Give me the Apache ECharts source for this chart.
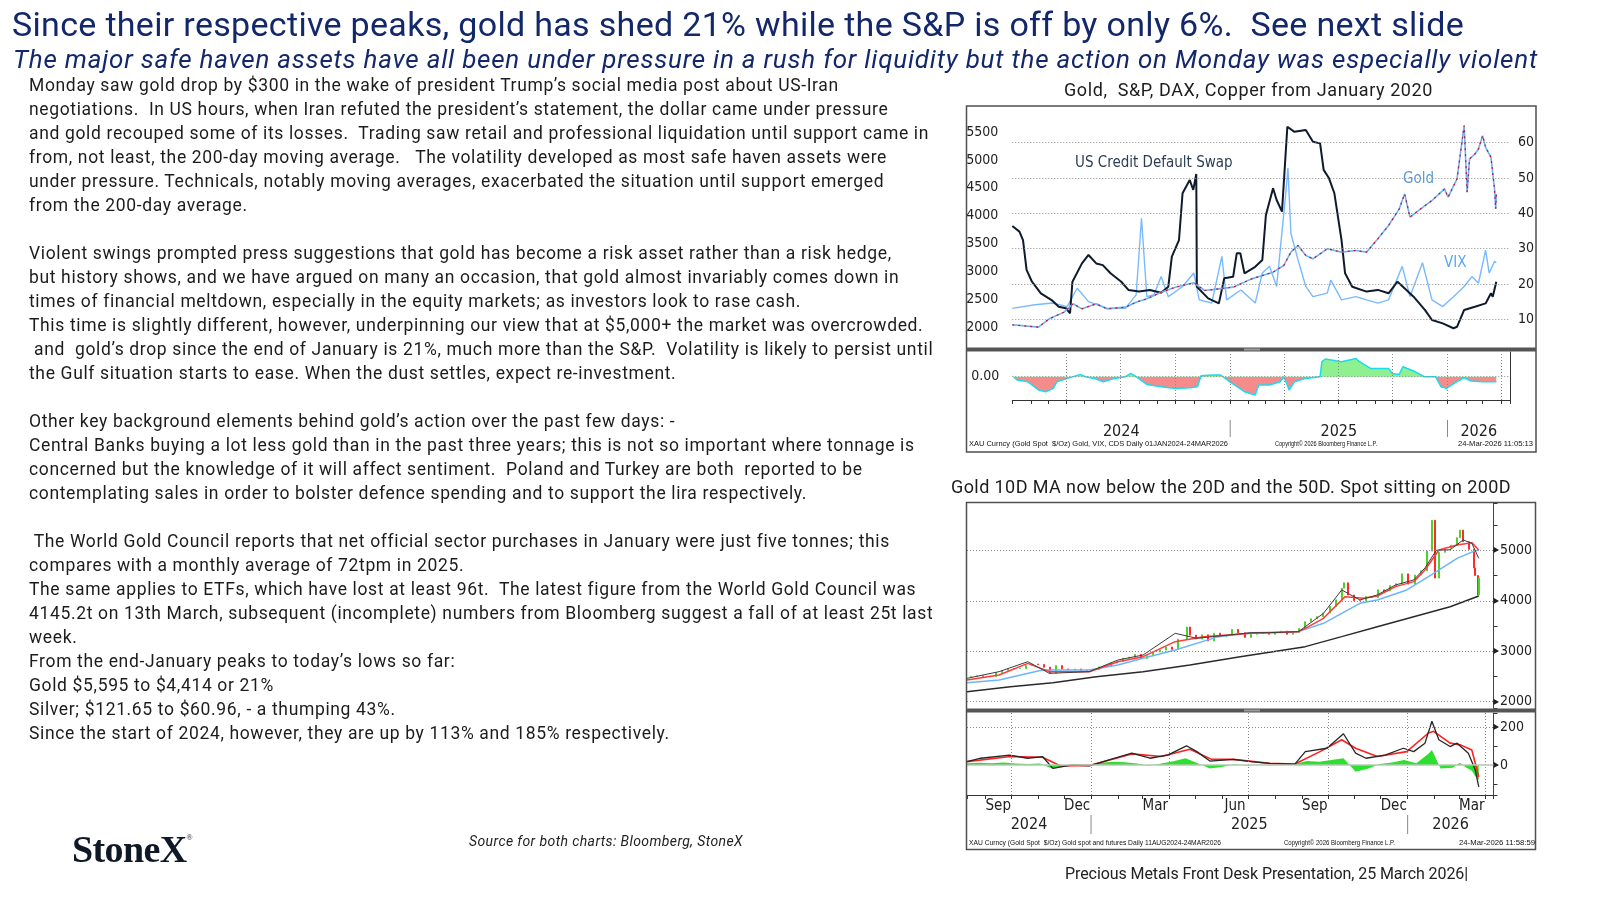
<!DOCTYPE html>
<html>
<head>
<meta charset="utf-8">
<title>Gold vs S&amp;P slide</title>
<script src="https://cdn.jsdelivr.net/npm/echarts@6.0.0/dist/echarts.min.js"></script>
<style>
  html, body { margin: 0; padding: 0; background: #fff; }
  #slide { position: relative; width: 1600px; height: 900px; overflow: hidden; font-family: Roboto, 'Noto Sans', sans-serif; color: #1c1c1c; }
  #chart { position: absolute; left: 0; top: 0; width: 1600px; height: 900px; z-index: 0; }
  .txt { position: absolute; white-space: pre; z-index: 1; }
  .title { left: 12px; top: 4px; font-size: 34px; line-height: 40px; color: #13286b; }
  .subtitle { left: 13px; top: 43px; font-size: 26px; line-height: 32px; font-style: italic; color: #13286b; }
  .body-line { left: 29px; font-size: 17.5px; line-height: 24px; height: 24px; }
  .ctitle { font-size: 18px; line-height: 24px; color: #1c1c1c; }
  .bbg { font-family: 'Liberation Sans Narrow', 'Liberation Sans', sans-serif; font-size: 8px; line-height: 10px; color: #111; transform-origin: 0 50%; }
  .logo { left: 72px; top: 816px; font-family: 'Liberation Serif', serif; font-weight: bold; font-size: 38px; line-height: 44px; color: #101828; }
  .logo sup { font-size: 8px; font-weight: normal; vertical-align: 22px; }
  .source { left: 469px; top: 831px; font-size: 14px; line-height: 20px; font-style: italic; color: #222; }
  .footer { left: 1065px; top: 864px; font-size: 16px; line-height: 20px; color: #222; }
</style>
</head>
<body>
<div id="slide">
  <div id="chart"></div>
  <div class="txt title" id="title">Since their respective peaks, gold has shed 21% while the S&amp;P is off by only 6%.  See next slide</div>
  <div class="txt subtitle" id="subtitle">The major safe haven assets have all been under pressure in a rush for liquidity but the action on Monday was especially violent</div>
  <div id="bodyText"></div>
  <div class="txt ctitle" id="ctitle1" style="left:1064px;top:78px;">Gold,  S&amp;P, DAX, Copper from January 2020</div>
  <div class="txt ctitle" id="ctitle2" style="left:951px;top:475px;">Gold 10D MA now below the 20D and the 50D. Spot sitting on 200D</div>
  <div class="txt bbg" id="bbg1a" style="left:969px;top:438.5px;">XAU Curncy (Gold Spot  $/Oz) Gold, VIX, CDS Daily 01JAN2024-24MAR2026</div>
  <div class="txt bbg" id="bbg1b" style="left:1275px;top:438.5px;">Copyright© 2026 Bloomberg Finance L.P.</div>
  <div class="txt bbg" id="bbg1c" style="left:1458px;top:438.5px;">24-Mar-2026 11:05:13</div>
  <div class="txt bbg" id="bbg2a" style="left:969px;top:838px;">XAU Curncy (Gold Spot  $/Oz) Gold spot and futures Daily 11AUG2024-24MAR2026</div>
  <div class="txt bbg" id="bbg2b" style="left:1284px;top:838px;">Copyright© 2026 Bloomberg Finance L.P.</div>
  <div class="txt bbg" id="bbg2c" style="left:1459px;top:838px;">24-Mar-2026 11:58:59</div>
  <div class="txt logo" id="logo">StoneX<sup>®</sup></div>
  <div class="txt source" id="source">Source for both charts: Bloomberg, StoneX</div>
  <div class="txt footer" id="footer">Precious Metals Front Desk Presentation, 25 March 2026|</div>
</div>
<script>
// ---------- slide text ----------
const bodyLines = [
  'Monday saw gold drop by $300 in the wake of president Trump’s social media post about US-Iran',
  'negotiations.  In US hours, when Iran refuted the president’s statement, the dollar came under pressure',
  'and gold recouped some of its losses.  Trading saw retail and professional liquidation until support came in',
  'from, not least, the 200-day moving average.   The volatility developed as most safe haven assets were',
  'under pressure. Technicals, notably moving averages, exacerbated the situation until support emerged',
  'from the 200-day average.',
  '',
  'Violent swings prompted press suggestions that gold has become a risk asset rather than a risk hedge,',
  'but history shows, and we have argued on many an occasion, that gold almost invariably comes down in',
  'times of financial meltdown, especially in the equity markets; as investors look to rase cash.',
  'This time is slightly different, however, underpinning our view that at $5,000+ the market was overcrowded.',
  ' and  gold’s drop since the end of January is 21%, much more than the S&P.  Volatility is likely to persist until',
  'the Gulf situation starts to ease. When the dust settles, expect re-investment.',
  '',
  'Other key background elements behind gold’s action over the past few days: -',
  'Central Banks buying a lot less gold than in the past three years; this is not so important where tonnage is',
  'concerned but the knowledge of it will affect sentiment.  Poland and Turkey are both  reported to be',
  'contemplating sales in order to bolster defence spending and to support the lira respectively.',
  '',
  ' The World Gold Council reports that net official sector purchases in January were just five tonnes; this',
  'compares with a monthly average of 72tpm in 2025.',
  'The same applies to ETFs, which have lost at least 96t.  The latest figure from the World Gold Council was',
  '4145.2t on 13th March, subsequent (incomplete) numbers from Bloomberg suggest a fall of at least 25t last',
  'week.',
  'From the end-January peaks to today’s lows so far:',
  'Gold $5,595 to $4,414 or 21%',
  'Silver; $121.65 to $60.96, - a thumping 43%.',
  'Since the start of 2024, however, they are up by 113% and 185% respectively.'
];

// ---------- chart 1: Gold, VIX, US CDS (daily, Jan 2024 - Mar 2026) ----------
const topGold = [
  ['2024-01-01', 2041], ['2024-02-14', 2000], ['2024-03-03', 2149], ['2024-03-28', 2269],
  ['2024-04-12', 2418], ['2024-04-27', 2328], ['2024-05-21', 2418], ['2024-06-08', 2328],
  ['2024-07-09', 2358], ['2024-07-27', 2448], ['2024-08-14', 2508], ['2024-09-07', 2627],
  ['2024-10-01', 2717], ['2024-11-01', 2795], ['2024-11-19', 2657], ['2024-12-13', 2687],
  ['2025-01-06', 2717], ['2025-02-06', 2866], ['2025-02-24', 2926], ['2025-03-14', 2986],
  ['2025-04-01', 3106], ['2025-04-13', 3346], ['2025-04-25', 3465], ['2025-05-08', 3286],
  ['2025-05-20', 3226], ['2025-06-13', 3405], ['2025-07-07', 3346], ['2025-07-31', 3376],
  ['2025-08-18', 3346], ['2025-09-06', 3585], ['2025-09-24', 3824], ['2025-10-12', 4123],
  ['2025-10-21', 4392], ['2025-10-30', 3973], ['2025-11-17', 4123], ['2025-12-06', 4273],
  ['2025-12-27', 4482], ['2026-01-02', 4332], ['2026-01-17', 4661], ['2026-01-29', 5619],
  ['2026-02-03', 4422], ['2026-02-07', 5019], ['2026-02-16', 5108], ['2026-02-22', 5198],
  ['2026-03-01', 5437], ['2026-03-06', 5228], ['2026-03-15', 5049], ['2026-03-21', 4482],
  ['2026-03-23', 4123], ['2026-03-24', 4392]
];
const topVix = [
  ['2024-01-01', 13.1], ['2024-02-08', 14.1], ['2024-03-09', 14.6], ['2024-04-02', 13.6],
  ['2024-04-19', 18.8], ['2024-05-08', 15.0], ['2024-06-08', 13.1], ['2024-07-09', 13.1],
  ['2024-07-27', 16.9], ['2024-08-05', 38.6], ['2024-08-14', 16.4], ['2024-08-26', 17.0],
  ['2024-09-07', 22.1], ['2024-09-19', 16.4], ['2024-10-13', 19.3], ['2024-11-01', 23.1],
  ['2024-11-10', 15.5], ['2024-12-01', 14.6], ['2024-12-18', 27.8], ['2024-12-26', 15.5],
  ['2025-01-19', 18.3], ['2025-02-12', 14.6], ['2025-02-24', 23.1], ['2025-03-08', 25.0],
  ['2025-03-20', 19.3], ['2025-04-04', 45.0], ['2025-04-08', 52.8], ['2025-04-13', 34.3],
  ['2025-04-25', 26.8], ['2025-05-08', 19.3], ['2025-05-20', 16.4], ['2025-06-13', 17.4],
  ['2025-06-19', 21.1], ['2025-07-07', 15.5], ['2025-07-31', 16.4], ['2025-08-18', 15.5],
  ['2025-09-06', 14.6], ['2025-09-24', 15.5], ['2025-10-17', 25.0], ['2025-10-30', 16.4],
  ['2025-11-20', 26.0], ['2025-12-06', 15.5], ['2025-12-24', 13.6], ['2026-01-11', 16.4],
  ['2026-01-29', 19.3], ['2026-02-11', 22.1], ['2026-02-22', 20.2], ['2026-03-06', 29.6],
  ['2026-03-12', 23.1], ['2026-03-21', 26.4], ['2026-03-24', 26.0]
];
// CDS has no printed scale: values are % of the panel height
const topCds = [
  ['2024-01-01', 50.6], ['2024-01-13', 48.3], ['2024-01-19', 44.8], ['2024-01-25', 32.4],
  ['2024-02-03', 27.5], ['2024-02-18', 22.7], ['2024-03-07', 19.9], ['2024-03-19', 17.1],
  ['2024-03-31', 16.5], ['2024-04-07', 14.4], ['2024-04-11', 27.5], ['2024-04-27', 35.1],
  ['2024-05-08', 38.6], ['2024-05-21', 35.1], ['2024-06-01', 34.4], ['2024-06-14', 31.0],
  ['2024-07-02', 27.5], ['2024-07-14', 24.1], ['2024-08-01', 23.4], ['2024-08-19', 24.1],
  ['2024-09-07', 22.9], ['2024-09-19', 25.4], ['2024-09-25', 37.9], ['2024-10-07', 44.8],
  ['2024-10-13', 64.2], ['2024-10-25', 69.7], ['2024-10-31', 65.6], ['2024-11-05', 72.2],
  ['2024-11-06', 25.4], ['2024-11-25', 20.6], ['2024-12-13', 18.5], ['2024-12-22', 28.9],
  ['2025-01-06', 29.6], ['2025-01-12', 39.3], ['2025-01-18', 39.3], ['2025-01-25', 31.0],
  ['2025-02-12', 33.7], ['2025-02-24', 36.5], ['2025-03-02', 55.2], ['2025-03-14', 66.3],
  ['2025-03-20', 61.4], ['2025-03-29', 56.6], ['2025-04-07', 91.8], ['2025-04-19', 89.7],
  ['2025-05-08', 90.5], ['2025-05-20', 85.6], ['2025-06-01', 84.9], ['2025-06-07', 73.9],
  ['2025-06-16', 70.4], ['2025-06-25', 64.2], ['2025-07-07', 44.8], ['2025-07-13', 31.0],
  ['2025-07-25', 25.4], ['2025-08-18', 23.4], ['2025-09-06', 24.1], ['2025-09-24', 22.7],
  ['2025-10-09', 27.5], ['2025-10-24', 24.1], ['2025-11-05', 21.3], ['2025-11-24', 15.8],
  ['2025-12-06', 11.6], ['2025-12-24', 10.2], ['2026-01-11', 8.2], ['2026-01-17', 8.8],
  ['2026-01-29', 15.8], ['2026-02-16', 17.1], ['2026-03-06', 18.5], ['2026-03-15', 22.7],
  ['2026-03-18', 21.3], ['2026-03-24', 27.5]
];
// lower panel spread (unscaled, only 0.00 printed)
const topSpread = [
  ['2024-01-03', 0], ['2024-01-09', -3.3], ['2024-01-27', -5], ['2024-02-14', -13.3],
  ['2024-02-26', -15], ['2024-03-10', -11.7], ['2024-03-16', -5], ['2024-04-03', -1.7],
  ['2024-04-24', 2.3], ['2024-05-03', 0], ['2024-05-21', -2.3], ['2024-06-02', -5],
  ['2024-06-21', -1.7], ['2024-07-09', 0], ['2024-07-18', 3.3], ['2024-07-27', 0],
  ['2024-08-14', -7.7], ['2024-09-07', -10], ['2024-10-01', -11.7], ['2024-10-26', -11],
  ['2024-11-07', -10], ['2024-11-13', 1], ['2024-12-01', 1.7], ['2024-12-16', 1.7],
  ['2024-12-19', 0], ['2024-12-31', -5], ['2025-01-25', -15], ['2025-02-12', -18.3],
  ['2025-02-18', -8.3], ['2025-03-08', -8.3], ['2025-03-26', -5], ['2025-04-01', 0],
  ['2025-04-07', -8.3], ['2025-04-10', -13.3], ['2025-04-19', -5], ['2025-05-08', -1.7],
  ['2025-06-01', 0], ['2025-06-04', 15], ['2025-06-10', 17.7], ['2025-07-07', 15],
  ['2025-07-31', 18.3], ['2025-08-06', 15], ['2025-08-25', 8.3], ['2025-09-24', 8.3],
  ['2025-09-30', 3.3], ['2025-10-12', 2.3], ['2025-10-18', 10], ['2025-11-05', 5.7],
  ['2025-11-23', 0], ['2025-12-12', 0], ['2025-12-21', -10], ['2025-12-30', -11.7],
  ['2026-01-17', -5], ['2026-01-29', -1], ['2026-02-10', -4.3], ['2026-02-28', -5],
  ['2026-03-24', -5]
];
const goldTicks = [2000, 2500, 3000, 3500, 4000, 4500, 5000, 5500];
const vixTicks = [10, 20, 30, 40, 50, 60];
const topQuarters = ['2024-04-01', '2024-07-01', '2024-10-01', '2025-01-01', '2025-04-01',
  '2025-07-01', '2025-10-01', '2026-01-01', '2026-04-01'];
const topYears = ['2024', '2025', '2026'];
const topYearBounds = ['2024-01-01', '2025-01-01', '2026-01-01', '2026-04-16'];

// ---------- chart 2: Gold spot with 10/20/50/200D MAs (Aug 2024 - Mar 2026) ----------
const spotClose = [
  ['2024-08-16', 2500], ['2024-08-23', 2512], ['2024-08-30', 2503], ['2024-09-06', 2497],
  ['2024-09-13', 2578], ['2024-09-20', 2622], ['2024-09-27', 2658], ['2024-10-04', 2653],
  ['2024-10-11', 2657], ['2024-10-18', 2721], ['2024-10-25', 2747], ['2024-11-01', 2736],
  ['2024-11-08', 2685], ['2024-11-15', 2563], ['2024-11-22', 2715], ['2024-11-29', 2650],
  ['2024-12-06', 2633], ['2024-12-13', 2648], ['2024-12-20', 2622], ['2024-12-27', 2621],
  ['2025-01-03', 2640], ['2025-01-10', 2690], ['2025-01-17', 2703], ['2025-01-24', 2770],
  ['2025-01-31', 2798], ['2025-02-07', 2861], ['2025-02-14', 2883], ['2025-02-21', 2936],
  ['2025-02-28', 2858], ['2025-03-07', 2910], ['2025-03-14', 2984], ['2025-03-21', 3023],
  ['2025-03-28', 3085], ['2025-04-04', 3037], ['2025-04-11', 3237], ['2025-04-22', 3480],
  ['2025-04-25', 3319], ['2025-05-02', 3241], ['2025-05-09', 3325], ['2025-05-16', 3203],
  ['2025-05-23', 3357], ['2025-05-30', 3289], ['2025-06-06', 3310], ['2025-06-13', 3433],
  ['2025-06-20', 3368], ['2025-06-27', 3274], ['2025-07-04', 3337], ['2025-07-11', 3355],
  ['2025-07-18', 3350], ['2025-07-25', 3337], ['2025-08-01', 3363], ['2025-08-08', 3398],
  ['2025-08-15', 3336], ['2025-08-22', 3371], ['2025-08-29', 3448], ['2025-09-05', 3586],
  ['2025-09-12', 3643], ['2025-09-19', 3685], ['2025-09-26', 3760], ['2025-10-03', 3886],
  ['2025-10-10', 4018], ['2025-10-17', 4251], ['2025-10-20', 4356], ['2025-10-24', 4113],
  ['2025-10-31', 4002], ['2025-11-07', 4000], ['2025-11-14', 4084], ['2025-11-21', 4065],
  ['2025-11-28', 4218], ['2025-12-05', 4198], ['2025-12-12', 4300], ['2025-12-19', 4338],
  ['2025-12-26', 4533], ['2026-01-02', 4330], ['2026-01-09', 4510], ['2026-01-16', 4595],
  ['2026-01-23', 4985], ['2026-01-29', 5595], ['2026-02-02', 4450], ['2026-02-06', 4960],
  ['2026-02-13', 5040], ['2026-02-20', 5100], ['2026-02-27', 5250], ['2026-03-02', 5400],
  ['2026-03-06', 5170], ['2026-03-13', 5020], ['2026-03-19', 4650], ['2026-03-20', 4500],
  ['2026-03-23', 4114], ['2026-03-24', 4450]
];
const ma10 = [
  ['2024-08-11', 2463], ['2024-09-17', 2595], ['2024-10-20', 2793], ['2024-11-14', 2562],
  ['2024-12-30', 2595], ['2025-02-01', 2826], ['2025-03-02', 2925], ['2025-04-08', 3355],
  ['2025-05-03', 3256], ['2025-07-05', 3368], ['2025-07-26', 3368], ['2025-08-28', 3388],
  ['2025-09-05', 3487], ['2025-09-26', 3751], ['2025-10-17', 4214], ['2025-11-07', 4016],
  ['2025-11-27', 4115], ['2025-12-18', 4313], ['2026-01-08', 4412], ['2026-01-21', 4650],
  ['2026-02-03', 5000], ['2026-02-19', 5010], ['2026-03-06', 5205], ['2026-03-16', 5139],
  ['2026-03-24', 4841]
];
const ma20 = [
  ['2024-08-11', 2430], ['2024-09-17', 2529], ['2024-10-20', 2760], ['2024-11-14', 2595],
  ['2024-12-30', 2595], ['2025-02-01', 2793], ['2025-03-02', 2892], ['2025-04-08', 3190],
  ['2025-05-11', 3289], ['2025-07-05', 3355], ['2025-07-26', 3368], ['2025-08-28', 3388],
  ['2025-09-05', 3454], ['2025-09-26', 3652], ['2025-10-21', 4082], ['2025-11-11', 4049],
  ['2025-11-27', 4095], ['2025-12-18', 4280], ['2026-01-08', 4379], ['2026-01-21', 4610],
  ['2026-02-06', 5007], ['2026-02-27', 5106], ['2026-03-16', 5152], ['2026-03-24', 5007]
];
const ma50 = [
  ['2024-08-11', 2377], ['2024-09-17', 2430], ['2024-11-06', 2628], ['2024-12-30', 2628],
  ['2025-02-01', 2727], ['2025-03-02', 2859], ['2025-04-08', 3025], ['2025-05-28', 3289],
  ['2025-07-05', 3368], ['2025-08-28', 3388], ['2025-09-26', 3553], ['2025-11-07', 3950],
  ['2025-11-27', 4016], ['2025-12-31', 4214], ['2026-01-25', 4478], ['2026-02-27', 4841],
  ['2026-03-20', 4993], ['2026-03-24', 5007]
];
const ma200 = [
  ['2024-08-11', 2199], ['2024-09-30', 2298], ['2024-11-18', 2377], ['2025-01-07', 2496],
  ['2025-03-02', 2595], ['2025-04-25', 2727], ['2025-06-22', 2892], ['2025-09-05', 3091],
  ['2025-10-17', 3289], ['2025-11-27', 3487], ['2026-01-08', 3685], ['2026-02-19', 3883],
  ['2026-03-24', 4095]
];
const macdLine = [
  ['2024-08-11', 18], ['2024-08-27', 36], ['2024-09-29', 52], ['2024-10-20', 36],
  ['2024-11-06', 45], ['2024-11-18', -18], ['2024-12-09', 0], ['2024-12-30', -5],
  ['2025-01-19', 23], ['2025-02-17', 63], ['2025-03-10', 36], ['2025-03-31', 54],
  ['2025-04-21', 102], ['2025-05-03', 71], ['2025-05-18', 21], ['2025-06-14', 30],
  ['2025-07-05', 18], ['2025-07-26', 9], ['2025-08-24', 5], ['2025-09-05', 71],
  ['2025-09-30', 89], ['2025-10-19', 166], ['2025-11-02', 63], ['2025-11-14', 36],
  ['2025-12-06', 52], ['2025-12-27', 89], ['2026-01-08', 71], ['2026-01-21', 116],
  ['2026-01-29', 232], ['2026-02-06', 134], ['2026-02-19', 98], ['2026-02-27', 116],
  ['2026-03-12', 63], ['2026-03-20', -27], ['2026-03-24', -116]
];
const signalLine = [
  ['2024-08-11', 18], ['2024-09-30', 45], ['2024-11-06', 41], ['2024-11-27', -5],
  ['2024-12-30', -2], ['2025-02-17', 59], ['2025-03-23', 45], ['2025-04-25', 84],
  ['2025-05-20', 30], ['2025-06-14', 30], ['2025-07-26', 9], ['2025-08-24', 5],
  ['2025-09-22', 71], ['2025-10-17', 134], ['2025-11-02', 89], ['2025-11-27', 45],
  ['2025-12-31', 71], ['2026-01-25', 170], ['2026-01-31', 179], ['2026-02-19', 116],
  ['2026-03-03', 107], ['2026-03-16', 80], ['2026-03-24', -63]
];
const macdHist = [
  ['2024-08-11', 10], ['2024-08-25', 12], ['2024-09-08', 10], ['2024-09-22', 14],
  ['2024-10-06', 8], ['2024-10-20', 5], ['2024-11-03', 8], ['2024-11-17', -18],
  ['2024-12-01', -6], ['2024-12-15', 4], ['2024-12-29', -3], ['2025-01-12', 12],
  ['2025-01-26', 18], ['2025-02-09', 15], ['2025-02-23', 8], ['2025-03-09', -4],
  ['2025-03-23', 8], ['2025-04-06', 20], ['2025-04-20', 36], ['2025-05-04', 10],
  ['2025-05-18', -18], ['2025-06-01', -10], ['2025-06-15', 4], ['2025-06-29', -3],
  ['2025-07-13', 2], ['2025-07-27', -2], ['2025-08-10', 3], ['2025-08-24', 6],
  ['2025-09-07', 22], ['2025-09-21', 18], ['2025-10-05', 27], ['2025-10-19', 36],
  ['2025-11-02', -36], ['2025-11-16', -20], ['2025-11-30', 6], ['2025-12-14', 14],
  ['2025-12-28', 27], ['2026-01-11', 10], ['2026-01-25', 60], ['2026-01-29', 80],
  ['2026-02-08', -18], ['2026-02-22', -14], ['2026-03-02', 12], ['2026-03-09', -12],
  ['2026-03-16', -30], ['2026-03-20', -60], ['2026-03-24', -80]
];
const botTicks = [2000, 3000, 4000, 5000];
const oscTicks = [0, 200];
const botQuarters = ['2024-10-01', '2025-01-01', '2025-04-01', '2025-07-01', '2025-10-01',
  '2026-01-01', '2026-04-01'];
const botMonths = [['Sep', '2024-09-16'], ['Dec', '2024-12-16'], ['Mar', '2025-03-16'],
  ['Jun', '2025-06-16'], ['Sep', '2025-09-16'], ['Dec', '2025-12-16'], ['Mar', '2026-03-16']];
const botYears = ['2024', '2025', '2026'];
const botYearBounds = ['2024-08-11', '2025-01-01', '2026-01-01', '2026-04-10'];

// ---------- helpers ----------
const F = "'Liberation Sans Narrow','DejaVu Sans Condensed','Liberation Sans',sans-serif";
const DAY = 24 * 3600 * 1000;
function day(s) {
  const p = s.split('-').map(Number);
  return new Date(p[0], p[1] - 1, p[2]).getTime();
}
const dotted = { type: [1, 2], color: '#8a8a8a', width: 1 };
function gridLines(data, style) {
  return { silent: true, symbol: ['none', 'none'], label: { show: false }, animation: false,
    lineStyle: style || dotted, data: data };
}
const hLines = vals => vals.map(v => ({ yAxis: v }));
const vLines = dates => dates.map(d => ({ xAxis: day(d) }));

function timeAxis(grid, min, max, showLine) {
  return {
    type: 'time', gridIndex: grid, min: min, max: max,
    minInterval: 28 * DAY, maxInterval: 31 * DAY,
    axisLine: { show: showLine, onZero: false, lineStyle: { color: '#333', width: 1 } },
    axisTick: { show: showLine, length: 4, lineStyle: { color: '#333' } },
    axisLabel: { show: false }, splitLine: { show: false }
  };
}

// spot drawn as bars from previous close to close
const spotBars = spotClose.map((p, i) => {
  const open = i ? spotClose[i - 1][1] : p[1];
  return [p[0], open, p[1], Math.min(open, p[1]), Math.max(open, p[1])];
});

const option = {
  animation: false,
  backgroundColor: 'transparent',
  grid: [
    { left: 1012.3, top: 107, width: 497.7, height: 241 },
    { left: 1012.3, top: 352, width: 497.7, height: 48 },
    { left: 967, top: 503, width: 526.5, height: 205 },
    { left: 967, top: 713, width: 526.5, height: 82 }
  ],
  xAxis: [
    timeAxis(0, '2024-01-01', '2026-04-16', false),
    timeAxis(1, '2024-01-01', '2026-04-16', true),
    timeAxis(2, '2024-08-11', '2026-04-10', false),
    timeAxis(3, '2024-08-11', '2026-04-10', true)
  ],
  yAxis: [
    { // gold, left
      type: 'value', gridIndex: 0, min: 1625, max: 5951, splitNumber: 8,
      axisLine: { show: false }, axisTick: { show: false }, splitLine: { show: false },
      axisLabel: { margin: 14, fontSize: 14, fontFamily: F, color: '#222',
        formatter: v => goldTicks.includes(v) ? String(v) : '' }
    },
    { // VIX, right
      type: 'value', gridIndex: 0, position: 'right', min: 1.875, max: 70.1, splitNumber: 7,
      axisLine: { show: false }, axisTick: { show: false }, splitLine: { show: false },
      axisLabel: { margin: 8, fontSize: 14, fontFamily: F, color: '#222',
        formatter: v => vixTicks.includes(v) ? String(v) : '' }
    },
    { type: 'value', gridIndex: 0, min: 0, max: 100, show: false },
    { // spread, left
      type: 'value', gridIndex: 1, min: -23.3, max: 24.7,
      axisLine: { show: false }, axisTick: { show: false }, splitLine: { show: false },
      axisLabel: { margin: 13, fontSize: 14, fontFamily: F, color: '#222',
        formatter: v => v === 0 ? '0.00' : '' }
    },
    { // spread panel right border
      type: 'value', gridIndex: 1, position: 'right', min: -23.3, max: 24.7,
      axisLine: { show: true, lineStyle: { color: '#333' } }, axisTick: { show: false },
      axisLabel: { show: false }, splitLine: { show: false }
    },
    { // gold spot, right
      type: 'value', gridIndex: 2, position: 'right', min: 1875, max: 5937.5,
      axisLine: { show: true, lineStyle: { color: '#444' } },
      axisTick: { show: true, length: 4, lineStyle: { color: '#333' } },
      minorTick: { show: true, splitNumber: 2, length: 4, lineStyle: { color: '#333' } },
      splitLine: { show: false },
      axisLabel: { margin: 0, fontSize: 14, fontFamily: F, color: '#222',
        formatter: v => botTicks.includes(v) ? '{t|▶}' + v : '',
        rich: { t: { fontSize: 8, color: '#222', padding: [0, 1, 0, 0] } } }
    },
    { // oscillator, right
      type: 'value', gridIndex: 3, position: 'right', min: -159, max: 276,
      axisLine: { show: true, lineStyle: { color: '#444' } },
      axisTick: { show: true, length: 4, lineStyle: { color: '#333' } },
      splitLine: { show: false },
      axisLabel: { margin: 0, fontSize: 14, fontFamily: F, color: '#222',
        formatter: v => oscTicks.includes(v) ? '{t|▶}' + v : '',
        rich: { t: { fontSize: 8, color: '#222', padding: [0, 1, 0, 0] } } }
    }
  ],
  visualMap: [{
    type: 'piecewise', show: false, seriesIndex: 4, dimension: 1,
    pieces: [{ gte: -50, lt: 0, color: '#f58b8b' }, { gte: 0, lte: 50, color: '#8ff08f' }]
  }],
  series: [
    { // 0 CDS
      name: 'US Credit Default Swap', type: 'line', xAxisIndex: 0, yAxisIndex: 2,
      data: topCds, showSymbol: false, z: 3,
      lineStyle: { color: '#0f1a2c', width: 2 }
    },
    { // 1 VIX
      name: 'VIX', type: 'line', xAxisIndex: 0, yAxisIndex: 1, data: topVix, showSymbol: false,
      lineStyle: { color: '#78baff', width: 1.4 }, z: 2,
      markLine: gridLines(hLines(vixTicks))
    },
    { // 2 gold
      name: 'Gold', type: 'line', xAxisIndex: 0, yAxisIndex: 0, data: topGold, showSymbol: false,
      lineStyle: { color: '#6db3f7', width: 1.6 }, z: 4
    },
    { // 3 gold red overlay
      name: 'Gold (bars)', type: 'line', xAxisIndex: 0, yAxisIndex: 0, data: topGold, showSymbol: false,
      lineStyle: { color: '#c8102e', width: 1.2, type: [2, 4] }, z: 5
    },
    { // 4 spread fill
      name: 'Spread fill', type: 'line', xAxisIndex: 1, yAxisIndex: 3, data: topSpread, showSymbol: false,
      lineStyle: { width: 0 }, areaStyle: { opacity: 1 }, z: 2
    },
    { // 5 spread outline
      name: 'Spread', type: 'line', xAxisIndex: 1, yAxisIndex: 3, data: topSpread, showSymbol: false,
      lineStyle: { color: '#19dcef', width: 1.5 }, z: 3,
      markLine: gridLines(hLines([0]).concat(vLines(topQuarters)))
    },
    { // 6 spot bars
      name: 'Spot', type: 'candlestick', xAxisIndex: 2, yAxisIndex: 5, data: spotBars,
      encode: { x: 0, y: [1, 2, 3, 4] }, barWidth: 1.5,
      itemStyle: { color: '#4fd12a', color0: '#ff2b2b', borderColor: '#4fd12a', borderColor0: '#ff2b2b', borderWidth: 1 }
    },
    { name: '200D', type: 'line', xAxisIndex: 2, yAxisIndex: 5, data: ma200, showSymbol: false,
      lineStyle: { color: '#2a2a2a', width: 1.5 },
      markLine: gridLines(hLines(botTicks)) },
    { name: '50D', type: 'line', xAxisIndex: 2, yAxisIndex: 5, data: ma50, showSymbol: false,
      lineStyle: { color: '#6cb4ff', width: 1.5 } },
    { name: '20D', type: 'line', xAxisIndex: 2, yAxisIndex: 5, data: ma20, showSymbol: false,
      lineStyle: { color: '#ff3a3a', width: 1.5 } },
    { name: '10D', type: 'line', xAxisIndex: 2, yAxisIndex: 5, data: ma10, showSymbol: false,
      lineStyle: { color: '#3c3c3c', width: 1 } },
    { name: 'Histogram', type: 'line', xAxisIndex: 3, yAxisIndex: 6, data: macdHist, showSymbol: false,
      lineStyle: { width: 0 }, areaStyle: { color: '#2ee02e', opacity: 1 },
      markLine: gridLines(vLines(botQuarters).concat(hLines([200])))
    },
    { name: 'Signal', type: 'line', xAxisIndex: 3, yAxisIndex: 6, data: signalLine, showSymbol: false,
      lineStyle: { color: '#ff2020', width: 1.6 },
      markLine: gridLines(hLines([0]), { type: 'solid', color: '#b5c9b5', width: 1.5 }) },
    { name: 'MACD', type: 'line', xAxisIndex: 3, yAxisIndex: 6, data: macdLine, showSymbol: false,
      lineStyle: { color: '#262626', width: 1.3 } }
  ]
};

// ---------- text layout ----------
const bodyBox = document.getElementById('bodyText');
bodyLines.forEach((s, i) => {
  const d = document.createElement('div');
  d.className = 'txt body-line';
  d.style.top = (73 + i * 24) + 'px';
  d.textContent = s;
  bodyBox.appendChild(d);
});

function fitLetters(el, target) {
  el.style.letterSpacing = '0px';
  const w = el.getBoundingClientRect().width;
  const n = el.textContent.length;
  if (n) el.style.letterSpacing = ((target - w) / n).toFixed(3) + 'px';
}
function fitScale(el, target) {
  el.style.transform = 'none';
  const w = el.getBoundingClientRect().width;
  if (w) el.style.transform = 'scaleX(' + (target / w).toFixed(4) + ')';
}
function layoutText() {
  fitLetters(document.getElementById('title'), 1452);
  fitLetters(document.getElementById('subtitle'), 1525);
  fitLetters(document.getElementById('ctitle1'), 369);
  fitLetters(document.getElementById('ctitle2'), 560);
  fitLetters(document.getElementById('source'), 274);
  fitLetters(document.getElementById('footer'), 403);
  fitLetters(document.getElementById('logo'), 120);
  const lines = bodyBox.children;
  const ref = lines[2];
  ref.style.letterSpacing = '0px';
  const w = ref.getBoundingClientRect().width;
  const ls = ((900 - w) / ref.textContent.length).toFixed(3) + 'px';
  for (const el of lines) el.style.letterSpacing = ls;
  [['bbg1a', 259], ['bbg1b', 102], ['bbg1c', 75], ['bbg2a', 252], ['bbg2b', 111], ['bbg2c', 76]]
    .forEach(p => fitScale(document.getElementById(p[0]), p[1]));
}
layoutText();
if (document.fonts && document.fonts.ready) document.fonts.ready.then(layoutText);

// ---------- chart ----------
const chart = echarts.init(document.getElementById('chart'));
chart.setOption(option);

function gtext(x, y, s, size, color, align) {
  return { type: 'text', x: x, y: y, z: 20, silent: true,
    style: { text: s, fontSize: size, fontFamily: F, fill: color, align: align || 'center', verticalAlign: 'middle' } };
}
function gline(x1, y1, x2, y2, color, w) {
  return { type: 'line', z: 20, silent: true, shape: { x1: x1, y1: y1, x2: x2, y2: y2 },
    style: { stroke: color, lineWidth: w || 1 } };
}
function grect(x, y, w, h, fill, stroke, lw) {
  return { type: 'rect', z: 20, silent: true, shape: { x: x, y: y, width: w, height: h },
    style: { fill: fill || 'none', stroke: stroke || null, lineWidth: lw || 0 } };
}
function yearMarks(axisIdx, years, bounds, yText, ySep1, ySep2) {
  const px = bounds.map(d => chart.convertToPixel({ xAxisIndex: axisIdx }, day(d)));
  const out = [];
  years.forEach((yr, i) => out.push(gtext((px[i] + px[i + 1]) / 2, yText, yr, 16, '#222')));
  for (let i = 1; i < px.length - 1; i++) out.push(gline(px[i], ySep1, px[i], ySep2, '#888', 1));
  return out;
}

const graphics = [
  grect(966.5, 106, 569.5, 346, null, '#505050', 1.5),
  grect(966.5, 347.5, 569.5, 4, '#555'),
  grect(1244, 348.5, 16, 2, '#9a9a9a'),
  grect(966.5, 502.5, 569, 347, null, '#505050', 1.5),
  grect(966.5, 708.5, 569, 4, '#555'),
  grect(1244, 709.5, 16, 2, '#9a9a9a'),
  gtext(1075, 163, 'US Credit Default Swap', 15, '#2c3e57', 'left'),
  gtext(1403, 179, 'Gold', 15, '#5d9ad6', 'left'),
  gtext(1444, 263, 'VIX', 15, '#5aa8f2', 'left')
]
  .concat(yearMarks(1, topYears, topYearBounds, 431.5, 420, 437))
  .concat(yearMarks(3, botYears, botYearBounds, 825, 815, 834))
  .concat(botMonths.map(m => gtext(chart.convertToPixel({ xAxisIndex: 3 }, day(m[1])), 806, m[0], 15, '#222')));

chart.setOption({ graphic: graphics });
</script>
</body>
</html>
